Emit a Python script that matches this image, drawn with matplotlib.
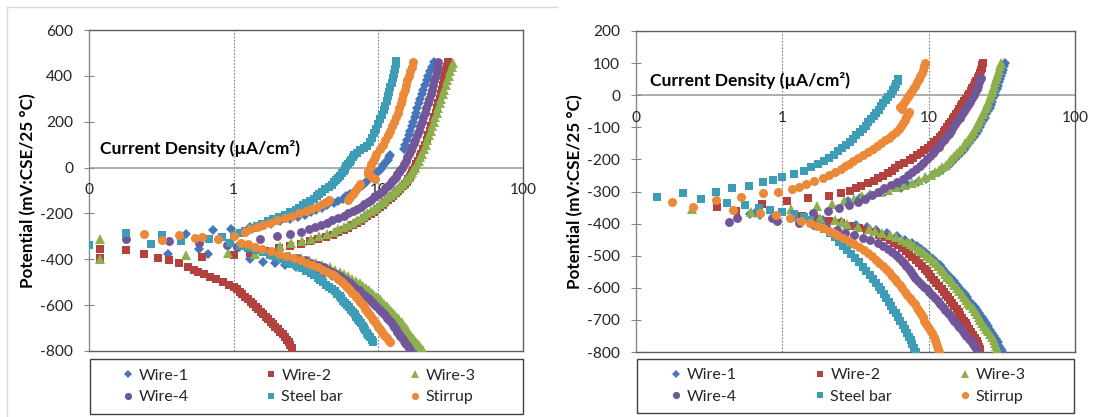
import matplotlib
matplotlib.use('Agg')
import matplotlib.pyplot as plt
from matplotlib.lines import Line2D
from matplotlib.patches import Rectangle
from matplotlib.ticker import NullLocator

plt.rcParams['font.family'] = ['Lato', 'DejaVu Sans']

# ---------------- data ----------------
series_names = ['Wire-1', 'Wire-2', 'Wire-3', 'Wire-4', 'Steel bar', 'Stirrup']
decades = [0.1, 1, 10, 100]
decade_labels = ['0', '1', '10', '100']
left_yticks = [-800, -600, -400, -200, 0, 200, 400, 600]
right_yticks = [-800, -700, -600, -500, -400, -300, -200, -100, 0, 100, 200]
x_title = 'Current Density (\u00b5A/cm\u00b2)'
y_title = 'Potential (mV:CSE/25 \u00b0C)'

# ---- Left panel: current density (uA/cm2) and potential (mV) ----
L_W1_I = [0.35, 0.58, 0.47, 0.72, 0.96, 1.29,
          0.66, 1.29, 1.6, 1.93, 2.26,
          1.55, 1.8, 2.1, 2.45, 2.8, 3.1, 3.4, 3.7, 4.05, 4.45, 4.9, 5.3, 5.7, 6.0, 6.4, 6.75, 7.1, 7.5, 7.85, 8.2, 8.4,
          9.7, 10.1, 10.4, 10.7, 11.0, 11.3, 11.6, 11.8, 12.0,
          15.0, 15.4, 15.8, 16.2, 16.6, 17.0, 17.4, 17.8, 18.2, 18.6, 19.0, 19.5, 20.0, 20.5, 21.0, 21.6, 22.2, 22.8, 23.6, 24.4,
          2.7, 3.2, 3.7, 4.2, 4.8, 5.4, 6.0, 6.6, 7.1, 7.55, 7.9, 8.25, 8.6, 8.95, 9.3, 9.7, 10.05, 10.4, 10.8, 11.15,
          11.5, 11.95, 12.4, 12.8, 13.2, 13.6, 13.9, 14.2, 14.5, 14.8, 15.2, 15.6, 16.0, 16.5, 17.0, 17.4, 17.9]
L_W1_E = [-375, -353, -288, -273, -266, -259,
          -379, -397, -411, -418, -426,
          -255, -245, -235, -225, -215, -205, -195, -185, -175, -165, -155, -145, -135, -125, -115, -105, -95, -85, -75, -65, -57,
          -25, -15, -5, 5, 15, 25, 35, 45, 53,
          80, 100, 120, 140, 160, 180, 200, 220, 240, 260, 280, 300, 320, 340, 360, 380, 400, 420, 440, 460,
          -435, -445, -455, -465, -475, -485, -495, -505, -515, -525, -535, -545, -555, -565, -575, -585, -595, -605, -615, -625,
          -635, -645, -655, -665, -675, -685, -695, -705, -715, -725, -735, -745, -755, -765, -775, -785, -795]

L_W2_I = [0.12, 0.12, 0.18, 0.24, 0.6,
          1.0, 1.3, 1.65, 2.05, 2.45, 2.9, 3.35, 3.85, 4.35, 4.85, 5.3, 5.75, 6.2, 6.65, 7.1, 7.55, 8.0, 8.4, 8.85, 9.3,
          9.75, 10.2, 10.7, 11.2, 11.7, 12.2, 12.7, 13.2, 13.7, 14.2, 14.7, 15.2, 15.7, 16.1, 16.5, 16.9, 17.2, 17.5,
          17.8, 18.3, 18.8, 19.3, 19.8,
          20.4, 21.0, 21.6, 22.2, 22.7, 23.3, 23.9, 24.4, 25.0, 25.5, 26.0, 26.5, 27.0, 27.5, 28.0, 28.5, 29.0, 29.5, 30.0, 30.4,
          0.30, 0.36, 0.42, 0.48, 0.53, 0.57, 0.62, 0.69, 0.76, 0.85, 0.93, 1.0, 1.05, 1.1, 1.15, 1.2, 1.25, 1.31, 1.37, 1.42,
          1.48, 1.54, 1.6, 1.66, 1.73, 1.8, 1.87, 1.94, 2.02, 2.1, 2.18, 2.25, 2.33, 2.4, 2.46, 2.52]
L_W2_E = [-353, -395, -358, -375, -389,
          -382, -372, -362, -352, -342, -332, -322, -312, -302, -292, -282, -272, -262, -252, -242, -232, -222, -212, -202, -192,
          -182, -172, -162, -152, -142, -132, -122, -112, -102, -92, -82, -72, -62, -52, -42, -32, -22, -12,
          0, 15, 30, 45, 60,
          80, 100, 120, 140, 160, 180, 200, 220, 240, 260, 280, 300, 320, 340, 360, 380, 400, 420, 440, 460,
          -395, -404, -418, -433, -445, -455, -465, -477, -488, -498, -510, -520, -530, -542, -553, -564, -575, -586, -597, -607,
          -618, -629, -640, -651, -662, -673, -684, -694, -705, -716, -727, -738, -750, -762, -775, -788]

L_W3_I = [0.12, 0.12, 0.47, 0.91, 1.4, 1.9,
          2.1, 2.5, 2.95, 3.4, 3.9, 4.4, 4.9, 5.3, 5.75, 6.2, 6.65, 7.1, 7.55, 8.0, 8.4, 8.85, 9.3, 9.75, 10.2, 10.7,
          11.2, 11.7, 12.2, 12.7, 13.2, 13.7, 14.2, 14.7, 15.2, 15.7, 16.2, 16.7, 17.1, 17.5,
          17.9, 18.5, 19.0, 19.5, 20.0,
          20.6, 21.2, 21.8, 22.4, 23.0, 23.6, 24.2, 24.8, 25.4, 26.0, 26.6, 27.2, 27.8, 28.5, 29.2, 29.9, 30.6, 31.4, 32.2, 33.0,
          2.4, 2.9, 3.3, 3.7, 4.1, 4.6, 5.0, 5.4, 5.8, 6.2, 6.6, 7.0, 7.45, 7.85, 8.25, 8.65, 9.0, 9.4, 9.8, 10.2,
          10.6, 11.0, 11.4, 11.8, 12.2, 12.6, 13.1, 13.6, 14.0, 14.5, 14.9, 15.3, 15.7, 16.0, 16.3, 16.8, 17.3, 17.8, 18.4, 19.0,
          19.7, 20.4]
L_W3_E = [-310, -397, -382, -371, -376, -381,
          -340, -330, -320, -310, -300, -290, -280, -270, -260, -250, -240, -230, -220, -210, -200, -190, -180, -170, -160, -150,
          -140, -130, -120, -110, -100, -90, -80, -70, -60, -50, -40, -30, -20, -10,
          0, 15, 30, 45, 60,
          80, 100, 120, 140, 160, 180, 200, 220, 240, 260, 280, 300, 320, 340, 360, 380, 400, 420, 440, 455,
          -385, -395, -405, -415, -425, -435, -445, -455, -465, -475, -485, -495, -505, -515, -525, -535, -545, -555, -565, -575,
          -585, -595, -605, -615, -625, -635, -645, -655, -665, -675, -685, -695, -705, -715, -725, -735, -745, -755, -765, -775,
          -785, -795]

L_W4_I = [0.18, 0.36, 0.58, 0.9,
          1.52, 2.0, 2.45, 2.9, 3.3, 3.65, 4.0, 4.4, 4.8, 5.3, 5.8, 6.2, 6.7, 7.1, 7.6, 8.0, 8.5, 8.9, 9.4, 9.8,
          10.3, 10.7, 11.1, 11.6, 12.0, 12.4, 12.8, 13.2, 13.5, 13.9, 14.2,
          14.5, 15.0, 15.5, 15.9, 16.4, 16.8, 17.2, 17.6, 18.0,
          18.5, 19.0, 19.5, 20.0, 20.5, 21.0, 21.5, 22.0, 22.5, 23.0, 23.5, 24.0, 24.4, 24.9, 25.3, 25.7, 26.0,
          1.05, 1.3, 1.6, 1.95, 2.35, 2.75, 3.1, 3.45, 3.8, 4.2, 4.5, 4.8, 5.1, 5.4, 5.75, 6.05, 6.35, 6.65, 6.95, 7.3,
          7.6, 7.95, 8.3, 8.65, 9.0, 9.35, 9.7, 10.05, 10.4, 10.75, 11.1, 11.5, 11.9, 12.3, 12.6, 12.9, 13.2, 13.5, 13.8, 14.2,
          14.6, 15.0, 15.4, 15.8, 16.2, 16.5]
L_W4_E = [-313, -322, -328, -339,
          -310, -300, -290, -280, -270, -260, -250, -240, -230, -220, -210, -200, -190, -180, -170, -160, -150, -140, -130, -120,
          -110, -100, -90, -80, -70, -60, -50, -40, -30, -20, -10,
          0, 15, 30, 45, 60, 75, 90, 105, 120,
          140, 160, 180, 200, 220, 240, 260, 280, 300, 320, 340, 360, 380, 400, 420, 440, 460,
          -345, -355, -365, -375, -385, -395, -405, -415, -425, -435, -445, -455, -465, -475, -485, -495, -505, -515, -525, -535,
          -545, -555, -565, -575, -585, -595, -605, -615, -625, -635, -645, -655, -665, -675, -685, -695, -705, -715, -725, -735,
          -745, -755, -765, -775, -785, -795]

L_SB_I = [0.10, 0.18, 0.27, 0.32, 0.43, 0.67, 0.83,
          1.0, 1.1, 1.2, 1.33, 1.45, 1.58, 1.72, 1.88, 2.05, 2.25, 2.45, 2.7, 2.85, 3.0, 3.15, 3.35, 3.6, 3.75, 3.9, 4.1,
          4.3, 4.55, 4.75, 4.95, 5.1, 5.3, 5.45, 5.6, 5.75, 5.9, 6.0, 6.2, 6.35, 6.5, 6.65, 6.8,
          7.1, 7.5, 8.0, 8.4,
          8.7, 9.0, 9.3, 9.6, 10.0, 10.3, 10.6, 10.9, 11.2, 11.5, 11.7, 11.9, 12.1, 12.4, 12.6, 12.8, 13.0, 13.2, 13.3,
          0.95, 1.1, 1.26, 1.42, 1.6, 1.78, 1.95, 2.15, 2.35, 2.55, 2.75, 2.95, 3.15, 3.4, 3.6, 3.8, 3.98, 4.16, 4.35, 4.55,
          4.8, 5.0, 5.2, 5.4, 5.55, 5.7, 5.9, 6.1, 6.3, 6.5, 6.7, 6.9, 7.05, 7.2, 7.4, 7.6, 7.8, 7.95, 8.1, 8.3,
          8.5, 8.75, 9.0, 9.2]
L_SB_E = [-339, -287, -333, -293, -322, -310, -304,
          -295, -285, -275, -265, -255, -245, -235, -225, -215, -205, -195, -185, -175, -165, -155, -145, -135, -125, -115, -105,
          -95, -85, -75, -65, -55, -45, -35, -25, -15, -5, 5, 15, 25, 35, 45, 55,
          65, 75, 85, 95,
          110, 130, 150, 170, 190, 210, 230, 250, 270, 290, 310, 330, 350, 370, 390, 410, 430, 450, 465,
          -330, -340, -350, -360, -370, -380, -390, -400, -410, -420, -430, -440, -450, -460, -470, -480, -490, -500, -510, -520,
          -530, -540, -550, -560, -570, -580, -590, -600, -610, -620, -630, -640, -650, -660, -670, -680, -690, -700, -710, -720,
          -730, -740, -750, -760]

L_ST_I = [0.24, 0.32, 0.42, 0.54, 0.60, 0.78, 1.0, 1.13,
          1.2, 1.3, 1.45, 1.6, 1.78, 2.0, 2.25, 2.55, 2.85, 3.15, 3.45, 3.75, 4.05, 4.35, 4.55,
          6.2, 6.4, 6.7, 6.95, 7.2, 7.5,
          9.5, 9.0, 8.5, 8.5, 8.7, 8.9, 9.2, 9.45, 9.7,
          10.2, 10.7, 11.1, 11.6, 12.0, 12.4, 12.8, 13.2, 13.6, 14.0, 14.3, 14.6, 14.9, 15.2, 15.5, 15.8, 16.2, 16.6, 17.0, 17.4,
          1.25, 1.4, 1.58, 1.8, 2.05, 2.3, 2.6, 2.9, 3.2, 3.5, 3.85, 4.15, 4.45, 4.75, 5.0, 5.25, 5.5, 5.7, 5.95, 6.15,
          6.4, 6.6, 6.85, 7.05, 7.25, 7.5, 7.7, 7.9, 8.1, 8.35, 8.55, 8.8, 9.0, 9.25, 9.5, 9.75, 10.0, 10.3, 10.55, 10.85,
          11.15, 11.45, 11.8, 12.0]
L_ST_E = [-288, -314, -295, -305, -302, -310, -300, -330,
          -280, -270, -260, -250, -240, -230, -220, -210, -200, -190, -180, -170, -160, -150, -143,
          -143, -130, -115, -100, -85, -70,
          -48, -40, -30, -15, 0, 15, 30, 45, 60,
          80, 100, 120, 140, 160, 180, 200, 220, 240, 260, 280, 300, 320, 340, 360, 380, 400, 420, 440, 460,
          -335, -345, -355, -365, -375, -385, -395, -405, -415, -425, -435, -445, -455, -465, -475, -485, -495, -505, -515, -525,
          -535, -545, -555, -565, -575, -585, -595, -605, -615, -625, -635, -645, -655, -665, -675, -685, -695, -705, -715, -725,
          -735, -745, -755, -760]

# ---- Right panel ----
R_W1_I = [0.6, 0.7, 0.65, 1.2, 1.9, 2.5, 3.2, 3.8,
          2.8, 3.4, 4.0, 5.0, 6.5, 7.2, 8.4, 9.6, 10.7, 11.7, 12.6, 13.5, 14.3, 15.2, 15.9, 16.6, 17.4, 18.1, 18.9, 19.6,
          20.3, 21.0, 21.6, 22.3, 22.9, 23.5, 24.2, 24.8, 25.4, 26.1, 26.6, 27.1, 27.7, 28.2, 28.6, 29.2, 29.6, 30.1, 30.6, 31.2,
          31.7, 32.2, 32.8, 33.4,
          4.4, 5.2, 6.1, 6.9, 7.7, 8.3, 8.9, 9.5, 10.1, 10.7, 11.3, 11.9, 12.5, 13.0, 13.6, 14.2, 14.8, 15.5, 16.2, 16.9,
          17.6, 18.3, 19.0, 19.8, 20.6, 21.4, 22.2, 23.0, 23.8, 24.6, 25.4, 26.2, 27.0, 27.8, 28.7, 29.6, 30.4, 31.2, 31.7]
R_W1_E = [-369, -374, -368, -380, -389, -395, -405, -412,
          -330, -320, -310, -300, -290, -280, -270, -260, -250, -240, -230, -220, -210, -200, -190, -180, -170, -160, -150, -140,
          -130, -120, -110, -100, -90, -80, -70, -60, -50, -40, -30, -20, -10, 0, 10, 20, 30, 40, 50, 60,
          70, 80, 90, 100,
          -420, -430, -440, -450, -460, -470, -480, -490, -500, -510, -520, -530, -540, -550, -560, -570, -580, -590, -600, -610,
          -620, -630, -640, -650, -660, -670, -680, -690, -700, -710, -720, -730, -740, -750, -760, -770, -780, -790, -797]

R_W2_I = [0.48,
          0.36, 0.73, 1.08, 1.5, 2.1, 2.52,
          2.92, 3.2, 3.45, 3.85, 4.2, 4.5, 4.9, 5.3, 5.6, 5.9, 6.3, 6.8, 7.4, 7.8, 8.3, 8.8, 9.3, 9.9, 10.4, 10.9,
          11.4, 11.9, 12.3, 12.7, 13.0, 13.4, 13.8, 14.2, 14.6, 15.0, 15.4, 15.8, 16.2, 16.6, 17.0, 17.5, 18.0, 18.5, 19.0, 19.5,
          19.9, 20.3, 20.7, 21.1, 21.6, 22.0, 22.4, 22.7, 23.0, 23.2, 23.4,
          1.36, 1.7, 2.1, 2.5, 2.9, 3.35, 3.8, 4.2, 4.6, 5.0,
          5.4, 5.8, 6.2, 6.6, 6.95, 7.3, 7.75, 8.2, 8.6, 9.0, 9.4, 9.8, 10.1, 10.4, 10.8, 11.3, 11.8, 12.3, 12.7, 13.1,
          13.5, 14.0, 14.5, 15.0, 15.5, 16.0, 16.5, 17.0, 17.4, 17.9, 18.4, 18.9, 19.5, 20.1, 20.7, 21.3, 21.8, 22.2, 22.6]
R_W2_E = [-360,
          -347, -339, -330, -321, -314, -306,
          -297, -290, -283, -275, -267, -259, -251, -243, -235, -227, -219, -211, -203, -195, -187, -179, -171, -163, -155, -147,
          -139, -131, -123, -115, -107, -99, -91, -83, -75, -67, -59, -51, -43, -35, -27, -19, -11, -3, 5, 13,
          21, 29, 37, 45, 53, 61, 69, 77, 85, 93, 100,
          -377, -385, -392, -399, -406, -413, -420, -427, -434, -441,
          -450, -459, -468, -477, -486, -495, -504, -513, -522, -531, -540, -549, -558, -567, -576, -585, -594, -603, -612, -621,
          -630, -639, -648, -657, -666, -675, -684, -693, -702, -711, -720, -729, -738, -747, -756, -765, -774, -783, -792]

R_W3_I = [0.24, 0.61, 1.15,
          1.72, 2.2, 2.65, 3.1, 3.5, 4.0, 4.6, 5.3, 6.0, 6.8, 7.7, 8.6, 9.5, 10.3, 11.0, 11.7, 12.4, 13.1, 13.7, 14.3,
          15.0, 15.7, 16.4, 17.1, 17.8, 18.5, 19.2, 19.8, 20.4, 21.0, 21.6, 22.2, 22.8, 23.4, 24.0, 24.6, 25.1, 25.6, 26.1, 26.6,
          27.0, 27.5, 27.9, 28.4, 28.9, 29.4, 29.9, 30.4, 30.9, 31.4,
          1.8, 2.3, 2.55, 2.76, 3.3, 3.9, 4.3, 4.8, 5.4, 6.0, 6.6, 7.1, 7.6, 8.0, 8.4, 8.8, 9.25, 9.7, 10.2, 10.7,
          11.2, 11.6, 12.1, 12.5, 12.9, 13.4, 13.9, 14.4, 15.0, 15.6, 16.2, 16.8, 17.3, 17.9, 18.6, 19.3, 20.0, 20.7, 21.3, 22.0,
          22.6, 23.3, 24.0, 24.7, 25.4, 26.1, 26.9, 27.8, 28.3, 28.8, 29.1, 29.3]
R_W3_E = [-356, -364, -353,
          -346, -338, -330, -322, -315, -308, -301, -294, -287, -280, -272, -264, -256, -248, -240, -232, -224, -216, -208, -200,
          -190, -180, -170, -160, -150, -140, -130, -120, -110, -100, -90, -80, -70, -60, -50, -40, -30, -20, -10, 0,
          10, 20, 30, 40, 50, 60, 70, 80, 90, 100,
          -384, -390, -396, -402, -410, -416, -422, -429, -436, -443, -450, -457, -464, -471, -478, -485, -492, -500, -508, -516,
          -524, -532, -540, -548, -556, -565, -574, -583, -592, -601, -610, -619, -628, -637, -646, -655, -664, -673, -682, -691,
          -700, -709, -718, -727, -736, -745, -754, -763, -772, -781, -790, -797]

R_W4_I = [0.43, 0.49, 0.85, 0.92,
          1.62, 2.05, 2.43, 2.84, 3.3, 3.7, 4.1, 4.5, 4.93,
          5.5, 6.1, 6.7, 7.2, 7.7, 8.2, 8.7, 9.2, 9.7, 10.2, 10.7, 11.1, 11.7, 12.2, 12.7, 13.2, 13.7, 14.2, 14.7, 15.2,
          15.7, 16.3, 16.8, 17.3, 17.9, 18.5, 19.2, 19.8, 20.3, 20.8, 21.3, 21.8, 22.2, 22.6, 22.8,
          1.3, 1.65, 2.0, 2.35, 2.7, 3.1, 3.55, 4.0, 4.5, 4.9, 5.3, 5.65, 6.0, 6.3, 6.55, 6.8, 7.05, 7.3, 7.55, 7.8,
          8.1, 8.5, 8.9, 9.3, 9.7, 10.1, 10.5, 11.0, 11.5, 12.0, 12.5, 13.0, 13.5, 14.0, 14.5, 15.0, 15.6, 16.2, 16.8, 17.4,
          18.1, 18.8, 19.5, 20.1, 20.7, 21.4]
R_W4_E = [-395, -384, -384, -391,
          -368, -361, -352, -342, -332, -322, -312, -301, -290,
          -280, -270, -260, -250, -240, -230, -220, -210, -200, -190, -180, -170, -160, -150, -140, -130, -120, -110, -100, -90,
          -80, -70, -60, -50, -40, -30, -20, -10, 0, 10, 20, 30, 40, 50, 55,
          -398, -405, -412, -420, -428, -436, -444, -452, -461, -470, -479, -488, -497, -506, -515, -524, -533, -542, -551, -560,
          -569, -578, -587, -596, -605, -614, -623, -632, -641, -650, -659, -668, -677, -686, -695, -704, -713, -722, -731, -740,
          -749, -758, -767, -776, -785, -794]

R_SB_I = [0.139, 0.21, 0.28, 0.35, 0.42, 0.45, 0.56, 0.59, 0.69, 0.74, 0.83, 0.87,
          1.0, 1.2, 1.4, 1.58, 1.75, 1.92, 2.08, 2.25, 2.4, 2.55, 2.72, 2.88, 3.02, 3.2, 3.38, 3.55, 3.72, 3.88, 4.05, 4.22,
          4.4, 4.6, 4.75, 4.9, 5.1, 5.3, 5.5, 5.7, 5.85, 6.0, 6.15, 6.2,
          1.0, 1.2, 1.4, 1.55, 1.73, 1.93, 2.13, 2.3, 2.45, 2.6, 2.77, 2.95, 3.15, 3.35, 3.55, 3.75, 3.95, 4.15, 4.35, 4.55,
          4.75, 4.95, 5.15, 5.35, 5.55, 5.75, 5.95, 6.15, 6.4, 6.65, 6.9, 7.1, 7.3, 7.55, 7.75, 7.95, 8.15]
R_SB_E = [-316, -306, -324, -301, -335, -290, -342, -283, -352, -271, -358, -264,
          -255, -245, -235, -225, -215, -205, -195, -185, -175, -165, -155, -145, -135, -125, -115, -105, -95, -85, -75, -65,
          -55, -45, -35, -25, -15, -5, 5, 15, 25, 35, 45, 50,
          -363, -370, -378, -390, -404, -417, -430, -443, -456, -469, -482, -495, -508, -521, -534, -547, -560, -572, -584, -596,
          -608, -620, -632, -644, -656, -668, -680, -692, -704, -716, -728, -740, -752, -764, -776, -788, -799]

R_ST_I = [0.176, 0.245, 0.35, 0.46, 0.52, 0.7, 0.74, 0.91, 0.94,
          1.16, 1.3, 1.45, 1.65, 1.9, 2.1, 2.3, 2.5, 2.7, 2.85, 3.05, 3.3, 3.55, 3.85, 4.15, 4.45, 4.75, 5.05, 5.35, 5.65,
          5.95, 6.25, 6.5, 6.7, 6.9, 7.05, 7.2, 7.3, 6.6, 6.4, 6.65, 6.9, 7.1, 7.3, 7.6, 7.85, 8.1, 8.35, 8.55, 8.75,
          8.95, 9.1, 9.25, 9.4,
          1.12, 1.34, 1.55, 1.73, 1.9, 2.1, 2.25, 2.37, 2.6, 2.85, 3.1, 3.35,
          3.6, 3.85, 4.1, 4.35, 4.6, 4.85, 5.1, 5.35, 5.6, 5.85, 6.1, 6.35, 6.6, 6.85, 7.15, 7.45, 7.75, 8.05, 8.35, 8.6,
          8.85, 9.1, 9.35, 9.6, 9.9, 10.2, 10.5, 10.8, 11.0, 11.2, 11.4, 11.6, 11.7]
R_ST_E = [-332, -347, -326, -358, -316, -366, -306, -373, -301,
          -293, -285, -276, -267, -258, -249, -240, -231, -222, -213, -204, -195, -186, -177, -168, -159, -150, -141, -132, -123,
          -114, -105, -96, -87, -78, -69, -60, -51, -44, -36, -27, -18, -9, 0, 10, 20, 30, 40, 50, 60,
          70, 80, 90, 100,
          -383, -391, -399, -407, -415, -422, -429, -436, -445, -454, -463, -472,
          -482, -492, -502, -512, -522, -532, -542, -552, -562, -572, -582, -592, -602, -612, -622, -632, -642, -652, -662, -672,
          -682, -692, -702, -712, -722, -732, -742, -752, -762, -772, -782, -792, -799]

left_I = [L_W1_I, L_W2_I, L_W3_I, L_W4_I, L_SB_I, L_ST_I]
left_E = [L_W1_E, L_W2_E, L_W3_E, L_W4_E, L_SB_E, L_ST_E]
right_I = [R_W1_I, R_W2_I, R_W3_I, R_W4_I, R_SB_I, R_ST_I]
right_E = [R_W1_E, R_W2_E, R_W3_E, R_W4_E, R_SB_E, R_ST_E]

for grp in (zip(series_names, left_I, left_E), zip(series_names, right_I, right_E)):
    for n, a, b in grp:
        if len(a) != len(b):
            raise ValueError(f'{n}: {len(a)} vs {len(b)}')

# ---------------- style ----------------
colors = ['#4676B9', '#B3423F', '#8DB04C', '#71579A', '#3E9DB6', '#EC8939']
markers = ['D', 's', '^', 'o', 's', 'o']
msizes = [4.8, 5.9, 6.6, 6.4, 6.1, 6.5]
leg_ms = [3.6, 4.8, 5.2, 5.2, 5.0, 5.2]

W, H = 1097, 417
fig = plt.figure(figsize=(W / 100, H / 100), dpi=100)


def px_rect(l, t, r, b):
    return [l / W, 1 - b / H, (r - l) / W, (b - t) / H]


# light chart-area border of the left chart
fig.add_artist(Line2D([7 / W, 557 / W], [1 - 7 / H, 1 - 7 / H], transform=fig.transFigure, color='#D9D9D9', lw=1))
fig.add_artist(Line2D([7 / W, 7 / W], [1 - 7 / H, 0], transform=fig.transFigure, color='#D9D9D9', lw=1))

axL = fig.add_axes(px_rect(89, 30, 523, 351))
axR = fig.add_axes(px_rect(636, 31, 1075, 352))


def style(ax, yticks, title_xy, ylab_x):
    ax.set_xscale('log')
    ax.set_xlim(decades[0], decades[-1])
    ax.set_ylim(yticks[0], yticks[-1])
    ax.set_yticks(yticks)
    ax.set_yticklabels([str(v) for v in yticks])
    ax.xaxis.set_major_locator(NullLocator())
    ax.xaxis.set_minor_locator(NullLocator())
    ax.tick_params(axis='y', direction='inout', length=7, width=0.8, color='#898989',
                   labelsize=11.2, labelcolor='#262626', pad=8.0)
    for s in ['top', 'right', 'bottom']:
        ax.spines[s].set_color('#5f5f5f')
        ax.spines[s].set_linewidth(1.0)
    ax.spines['left'].set_color('#898989')
    ax.spines['left'].set_linewidth(1.0)
    for x in decades[1:-1]:
        ax.axvline(x, color='#7f7f7f', lw=0.8, ls=(0, (1.5, 1.5)), zorder=1)
    ax.axhline(0, color='#A6A6A6', lw=1.3, zorder=1)
    for x, lab in zip(decades, decade_labels):
        ax.annotate(lab, xy=(x, 0), xytext=(0, -16.3), textcoords='offset points',
                    ha='center', va='center', fontsize=11.2, color='#262626')
    ax.text(title_xy[0], title_xy[1], x_title, transform=ax.transAxes, ha='left', va='center',
            fontsize=12.6, fontweight='bold', color='#000000')
    ax.set_ylabel(y_title, fontsize=12.3, fontweight='bold', color='#000000')
    ax.yaxis.set_label_coords(ylab_x, 0.5)


style(axL, left_yticks, (0.025, 0.632), -0.122)
style(axR, right_yticks, (0.032, 0.847), -0.121)

for ax, Is, Es in ((axL, left_I, left_E), (axR, right_I, right_E)):
    for k in range(6):
        ax.plot(Is[k], Es[k], ls='none', marker=markers[k], ms=msizes[k], color=colors[k],
                markeredgewidth=0, zorder=3 + k)

# legends: box + three columns each
handles = [Line2D([], [], ls='none', marker=markers[k], ms=leg_ms[k], color=colors[k], markeredgewidth=0)
           for k in range(6)]
columns = [(0, 3), (1, 4), (2, 5)]
for box, col_x in (((90, 359, 523, 414), (128, 271, 415)), ((637, 359, 1074, 413), (676, 820, 965))):
    l, t, r, b = box
    fig.add_artist(Rectangle((l / W, 1 - b / H), (r - l) / W, (b - t) / H, transform=fig.transFigure,
                             fill=False, edgecolor='#3f3f3f', lw=1.0))
    yc = 1 - ((t + b) / 2) / H
    for (i1, i2), cx in zip(columns, col_x):
        hl = 0.7
        fs = 11.5
        left_px = cx - hl * fs * 100 / 72 / 2
        fig.legend([handles[i1], handles[i2]], [series_names[i1], series_names[i2]],
                   loc='center left', bbox_to_anchor=(left_px / W, yc), bbox_transform=fig.transFigure,
                   frameon=False, fontsize=fs, handlelength=hl, handletextpad=0.3,
                   borderpad=0, borderaxespad=0, labelspacing=0.45, labelcolor='#262626')

fig.savefig('out.png', dpi=100)
